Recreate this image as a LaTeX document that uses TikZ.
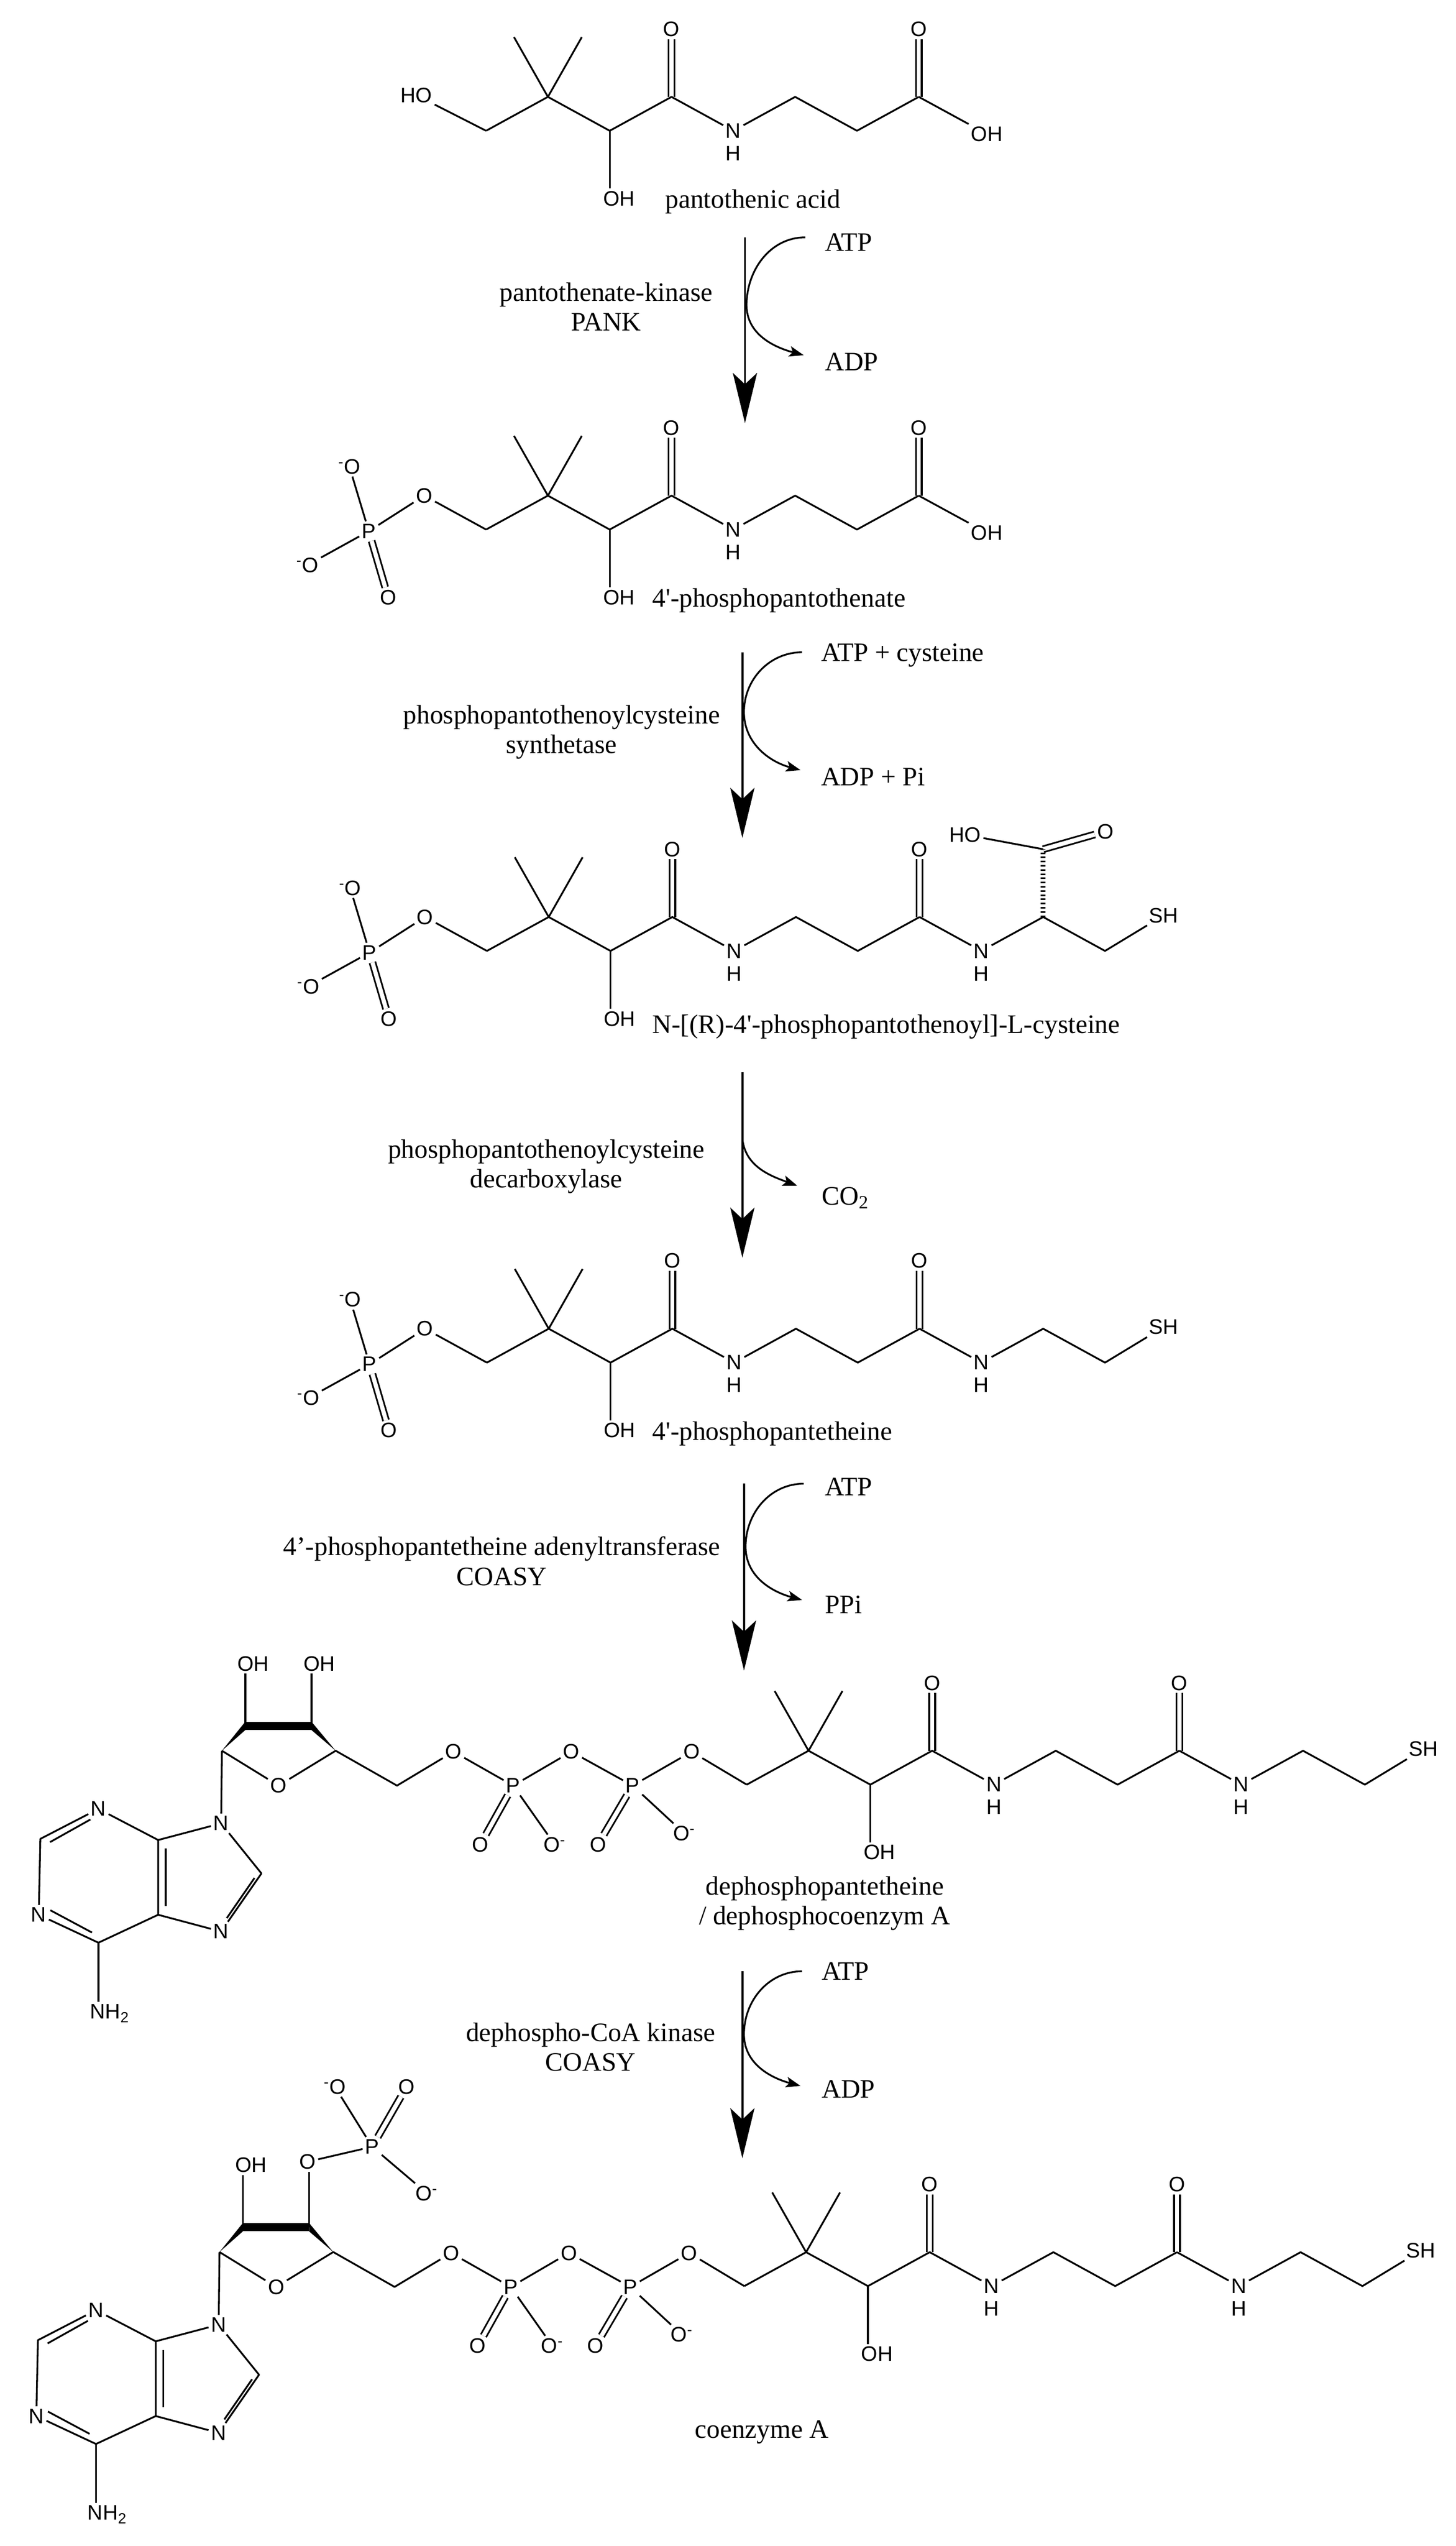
\documentclass[tikz,border=0pt]{standalone}
\usepackage{fontspec}
\setmainfont{Liberation Serif}
\newfontfamily\atomfont{Liberation Sans}
\usetikzlibrary{arrows.meta,calc}
\tikzset{
 bond/.style={line width=1.1pt, line join=round},
 dbond/.style={line width=1.05pt, double, double distance=2.6pt},
 hashb/.style={line width=3pt, dash pattern=on 1pt off 1.6pt},
 atom/.style={font={\atomfont\fontsize{13}{14}\selectfont}, inner sep=1.4pt},
 cname/.style={font={\fontsize{16.5}{18.5}\selectfont}, inner sep=0pt, align=center},
 rxn/.style={line width=1.2pt, -{Stealth[length=31pt,width=15pt,inset=7pt]}},
 side/.style={line width=1.1pt, -{Stealth[length=9pt,width=6.5pt,inset=2pt]}},
}
% pantoyl-beta-alanyl chain, Cq at (#2,#3)
\newcommand{\pant}[3]{%
\begin{scope}[shift={(#2,#3)}]
\coordinate (#1q) at (0,0);
\coordinate (#1a) at (-38.3,21);
\coordinate (#1m1) at (-21,-37);
\coordinate (#1m2) at (21,-37);
\coordinate (#1b) at (38.3,21);
\node[atom] (#1oh) at (44,63) {OH};
\coordinate (#1c1) at (76.6,0);
\node[atom] (#1o1) at (76.6,-42) {O};
\node[atom] (#1n1) at (114.9,21) {N};
\node[atom] (#1h1) at (114.9,35) {H};
\coordinate (#1c2) at (153.2,0);
\coordinate (#1c3) at (191.5,21);
\coordinate (#1c4) at (229.8,0);
\node[atom] (#1o2) at (229.8,-42) {O};
\end{scope}
\draw[dbond] (#1c1) -- (#1o1);
\draw[dbond] (#1c4) -- (#1o2);
\draw[bond] (#1a) -- (#1q) -- (#1b) -- (#1c1) -- (#1n1) -- (#1c2) -- (#1c3) -- (#1c4);
\draw[bond] (#1m1) -- (#1q) -- (#1m2);
\draw[bond] (#1b) -- (#1b |- #1oh.north);
}
% phosphate on the pantoyl OH
\newcommand{\phos}[3]{%
\begin{scope}[shift={(#2,#3)}]
\node[atom] (#1oe) at (-76.6,0) {O};
\node[atom] (#1p) at (-111,22) {P};
\node[atom] (#1ot) at (-123,-18) {\textsuperscript{-}O};
\node[atom] (#1ol) at (-149,43) {\textsuperscript{-}O};
\node[atom] (#1ob) at (-99,63) {O};
\end{scope}
\draw[dbond] (#1p) -- (#1ob);
\draw[bond] (#1a) -- (#1oe) -- (#1p);
\draw[bond] (#1p) -- (#1ot);
\draw[bond] (#1p) -- (#1ol);
}
% cysteamine end
\newcommand{\cyst}[3]{%
\begin{scope}[shift={(#2,#3)}]
\node[atom] (#1n2) at (268.1,21) {N};
\node[atom] (#1h2) at (268.1,35) {H};
\coordinate (#1c5) at (306.4,0);
\coordinate (#1c6) at (344.7,21);
\node[atom] (#1sh) at (381,-1) {SH};
\end{scope}
\draw[bond] (#1c4) -- (#1n2) -- (#1c5) -- (#1c6) -- (#1sh);
}
% adenosine diphosphate part (mol-5 frame)
\newcommand{\adeno}[1]{%
\coordinate (#1r1) at (137.5,1084.4);
\coordinate (#1r2) at (152,1069);
\coordinate (#1r3) at (193,1069);
\coordinate (#1r4) at (208,1084.4);
\node[atom] (#1ro) at (172.6,1106) {O};
\coordinate (#1r5) at (246,1106);
\node[atom] (#1po1) at (281,1085) {O};
\node[atom] (#1pp1) at (318,1106) {P};
\node[atom] (#1po2) at (354,1085) {O};
\node[atom] (#1pp2) at (392,1106) {P};
\node[atom] (#1po3) at (428.5,1085) {O};
\node[atom] (#1pd1) at (297.6,1142.5) {O};
\node[atom] (#1pm1) at (343.7,1142.5) {O\textsuperscript{-}};
\node[atom] (#1pd2) at (370.5,1142.5) {O};
\node[atom] (#1pm2) at (424,1135.6) {O\textsuperscript{-}};
\node[atom] (#1n9) at (137,1129.4) {N};
\coordinate (#1c4) at (98,1139.7);
\coordinate (#1c5) at (98,1186);
\node[atom] (#1n7) at (137,1196.4) {N};
\coordinate (#1c8) at (162,1160.4);
\node[atom] (#1n3) at (61,1120.4) {N};
\coordinate (#1c2) at (25,1139);
\node[atom] (#1n1) at (24,1186) {N};
\coordinate (#1c6) at (61,1203.3);
\node[atom] (#1nh) at (68,1247) {NH\textsubscript{2}};
\draw[dbond] (#1pp1) -- (#1pd1);
\draw[dbond] (#1pp2) -- (#1pd2);
\draw[bond] (#1r1) -- (#1ro) -- (#1r4) -- (#1r5) -- (#1po1) -- (#1pp1) -- (#1po2) -- (#1pp2) -- (#1po3);
\draw[bond] (#1pp1) -- (#1pm1);
\draw[bond] (#1pp2) -- (#1pm2);
\fill (#1r1) -- ($(#1r2)+(0,2.6)$) -- ($(#1r2)+(0,-2.6)$) -- cycle;
\fill (#1r4) -- ($(#1r3)+(0,2.6)$) -- ($(#1r3)+(0,-2.6)$) -- cycle;
\draw[line width=5.2pt] (#1r2) -- (#1r3);
\draw[bond] (#1r1) -- (#1n9);
\draw[bond] (#1n9) -- (#1c4) -- (#1c5) -- (#1n7) -- (#1c8) -- (#1n9);
\draw[bond] (#1c4) -- (#1n3) -- (#1c2) -- (#1n1) -- (#1c6) -- (#1c5);
\draw[bond] (#1c6) -- (#1c6 |- #1nh.north);
\draw[bond] (56,1127) -- (31,1141);
\draw[bond] (102.7,1145) -- (102.7,1180.5);
\draw[bond] (31.2,1183.2) -- (57,1197);
\draw[bond] (157.7,1163.2) -- (140.5,1188.1);
\node[atom] (#1oha) at (157,1030.5) {OH};
\draw[bond] (#1r2) -- (#1r2 |- #1oha.south);
}
\begin{document}
\begin{tikzpicture}[x=1pt,y=-1pt]
\fill[white] (0,0) rectangle (902,1577);
\useasboundingbox (0,0) rectangle (902,1577);

% ---------- molecule 1: pantothenic acid
\pant{a}{339.5}{60}
\node[atom] (aho) at (258,59) {HO};
\node[atom] (aoht) at (611.5,83) {OH};
\draw[bond] (aho) -- (aa);
\draw[bond] (ac4) -- (aoht);
\node[cname, anchor=west] (n1) at (412,125) {pantothenic acid};

% ---------- molecule 2
\pant{b}{339.5}{307}
\phos{b}{339.5}{307}
\node[atom] (boht) at (611.5,330) {OH};
\draw[bond] (bc4) -- (boht);
\node[cname, anchor=west] (n2) at (404,372) {4\textquotesingle-phosphopantothenate};

% ---------- molecule 3
\pant{c}{340}{568}
\phos{c}{340}{568}
\cyst{c}{340}{568}
\begin{scope}[shift={(340,568)}]
\coordinate (ccx) at (306.4,-42);
\node[atom] (cho) at (258,-51) {HO};
\node[atom] (cod) at (345,-53) {O};
\end{scope}
\draw[dbond] (ccx) -- (cod);
\draw[bond] (ccx) -- (cho);
\draw[hashb] (cc5) -- (ccx);
\node[cname, anchor=west] (n3) at (404,636) {N-[(R)-4\textquotesingle-phosphopantothenoyl]-L-cysteine};

% ---------- molecule 4
\pant{d}{340}{823}
\phos{d}{340}{823}
\cyst{d}{340}{823}
\node[cname, anchor=west] (n4) at (404,888) {4\textquotesingle-phosphopantetheine};

% ---------- molecule 5
\pant{e}{501}{1084.4}
\cyst{e}{501}{1084.4}
\adeno{e}
\draw[bond] (epo3) -- (ea);
\node[atom] (eohb) at (198,1030.5) {OH};
\draw[bond] (er3) -- (er3 |- eohb.south);
\node[cname] (n5) at (511,1179) {dephosphopantetheine\\/ dephosphocoenzym A};

% ---------- molecule 6
\pant{f}{499.5}{1395}
\cyst{f}{499.5}{1395}
\begin{scope}[shift={(-1.5,310.5)}]
\adeno{f}
\node[atom] (fo3) at (192,1028.5) {O};
\node[atom] (fp3) at (232.1,1019.2) {P};
\node[atom] (fpt) at (209,982) {\textsuperscript{-}O};
\node[atom] (fpd) at (253.5,982) {O};
\node[atom] (fpm) at (266,1048) {O\textsuperscript{-}};
\end{scope}
\draw[bond] (fpo3) -- (fa);
\draw[bond] (fr3) -- (fr3 |- fo3.south);
\draw[bond] (fo3) -- (fp3) -- (fpt);
\draw[bond] (fp3) -- (fpm);
\draw[dbond] (fp3) -- (fpd);
\node[cname] (n6) at (472,1506.6) {coenzyme A};

% ---------- reaction arrows
% 1
\coordinate (r1t) at (461.6,147); \coordinate (r1b) at (461.6,262);
\draw[rxn] (r1t) -- (r1b);
\node[cname, anchor=west] (r1in) at (511,150) {ATP};
\node[cname, anchor=west] (r1out) at (511,224) {ADP};
\coordinate (r1s) at (499,147); \coordinate (r1m) at (462.6,189); \coordinate (r1e) at (498,220);
\draw[side] (r1s) to[out=180,in=90] (r1m) to[out=-90,in=165] (r1e);
\node[cname] (e1) at (375.6,190) {pantothenate-kinase\\PANK};
% 2
\coordinate (r2t) at (460,404); \coordinate (r2b) at (460,519);
\draw[rxn] (r2t) -- (r2b);
\node[cname, anchor=west] (r2in) at (508.6,406) {ATP + cysteine};
\node[cname, anchor=west] (r2out) at (508.6,481) {ADP + Pi};
\coordinate (r2s) at (497,404); \coordinate (r2m) at (461,441); \coordinate (r2e) at (496,477);
\draw[side] (r2s) to[out=180,in=90] (r2m) to[out=-90,in=165] (r2e);
\node[cname] (e2) at (348,453.5) {phosphopantothenoylcysteine\\synthetase};
% 3
\coordinate (r3t) at (460,664); \coordinate (r3b) at (460,779);
\draw[rxn] (r3t) -- (r3b);
\node[cname, anchor=west] (r3out) at (509,742) {CO\textsubscript{2}};
\coordinate (r3s) at (460,705); \coordinate (r3e) at (494,734.4);
\draw[side] (r3s) to[out=-85,in=160] (r3e);
\node[cname] (e3) at (338.5,722.5) {phosphopantothenoylcysteine\\decarboxylase};
% 4
\coordinate (r4t) at (461,919); \coordinate (r4b) at (461,1034.7);
\draw[rxn] (r4t) -- (r4b);
\node[cname, anchor=west] (r4in) at (511,921) {ATP};
\node[cname, anchor=west] (r4out) at (511,994) {PPi};
\coordinate (r4s) at (498,919); \coordinate (r4m) at (462,958); \coordinate (r4e) at (497,991);
\draw[side] (r4s) to[out=180,in=90] (r4m) to[out=-90,in=165] (r4e);
\node[cname] (e4) at (311,967) {4’-phosphopantetheine adenyltransferase\\COASY};
% 5
\coordinate (r5t) at (460,1221); \coordinate (r5b) at (460,1336.8);
\draw[rxn] (r5t) -- (r5b);
\node[cname, anchor=west] (r5in) at (509,1221) {ATP};
\node[cname, anchor=west] (r5out) at (509,1294) {ADP};
\coordinate (r5s) at (497,1221); \coordinate (r5m) at (461,1260); \coordinate (r5e) at (496,1292);
\draw[side] (r5s) to[out=180,in=90] (r5m) to[out=-90,in=165] (r5e);
\node[cname] (e5) at (366,1268) {dephospho-CoA kinase\\COASY};
\end{tikzpicture}
\end{document}
